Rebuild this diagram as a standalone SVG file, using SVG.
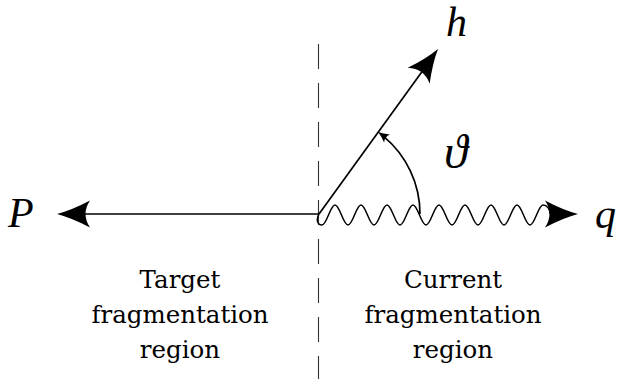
<svg xmlns="http://www.w3.org/2000/svg" xmlns:xlink="http://www.w3.org/1999/xlink" width="617" height="379" viewBox="0 0 617 379">
  <style>
    .ln { fill: none; stroke: #000; stroke-width: 1.7; stroke-linecap: butt; }
    .wave { fill: none; stroke: #000; stroke-width: 1.5; }
    .dash { fill: none; stroke: #333; stroke-width: 1.1; stroke-dasharray: 25 14; }
    .ah { fill: #000; stroke: none; }
    .math { font-family: "Liberation Serif", "Times New Roman", serif; font-style: italic; font-size: 42px; fill: #000; }
    .lbl { font-family: "DejaVu Serif", "Liberation Serif", serif; font-size: 24.5px; fill: #000; text-anchor: middle; }
  </style>
  <defs>
    <path id="bigArrow" d="M0,0 Q-15,-4 -33,-13.5 Q-24,0 -33,13.5 Q-15,4 0,0 Z"/>
    <path id="smallArrow" d="M0,0 Q-5,-1.5 -11,-5 Q-8,0 -11,5 Q-5,1.5 0,0 Z"/>
  </defs>
  <rect x="0" y="0" width="617" height="379" fill="#fff"/>

  <g id="connectors">
    <line id="divider" class="dash" x1="318.5" y1="44" x2="318.5" y2="379"/>
    <line id="p-line" class="ln" x1="319" y1="214" x2="80" y2="214"/>
    <use xlink:href="#bigArrow" class="ah" transform="translate(57,214) rotate(180)"/>
    <line id="h-line" class="ln" x1="319" y1="214" x2="425" y2="67.5"/>
    <use xlink:href="#bigArrow" class="ah" transform="translate(438,49) rotate(-54.2)"/>
    <path id="q-wave" class="wave" d="M319,214 C316,219 317,225 322,225 c4.73,0 8.27,-20 13,-20 s8.27,20 13,20 s8.27,-20 13,-20 s8.27,20 13,20 s8.27,-20 13,-20 s8.27,20 13,20 s8.27,-20 13,-20 s8.27,20 13,20 s8.27,-20 13,-20 s8.27,20 13,20 s8.27,-20 13,-20 s8.27,20 13,20 s8.27,-20 13,-20 s8.27,20 13,20 s8.27,-20 13,-20 s8.27,20 13,20 s8.27,-20 13,-20 c4,0 7,4 7,9"/>
    <use xlink:href="#bigArrow" class="ah" transform="translate(578,214)"/>
    <path id="angle-arc" class="ln" d="M420,214 A101,101 0 0 0 383.6,136.4"/>
    <use xlink:href="#smallArrow" class="ah" transform="translate(378.1,132.1) rotate(-144.2)"/>
  </g>

  <g id="node-P"><text class="math" x="8" y="227">P</text></g>
  <g id="node-h"><text class="math" x="446" y="36">h</text></g>
  <g id="node-q"><text class="math" x="595" y="228">q</text></g>
  <g id="node-theta"><text class="math" x="444" y="168" style="font-size:48px">ϑ</text></g>

  <g id="target-region">
    <text class="lbl" x="180" y="288">Target</text>
    <text class="lbl" x="180" y="323">fragmentation</text>
    <text class="lbl" x="180" y="358">region</text>
  </g>
  <g id="current-region">
    <text class="lbl" x="453" y="288">Current</text>
    <text class="lbl" x="453" y="323">fragmentation</text>
    <text class="lbl" x="453" y="358">region</text>
  </g>
</svg>
